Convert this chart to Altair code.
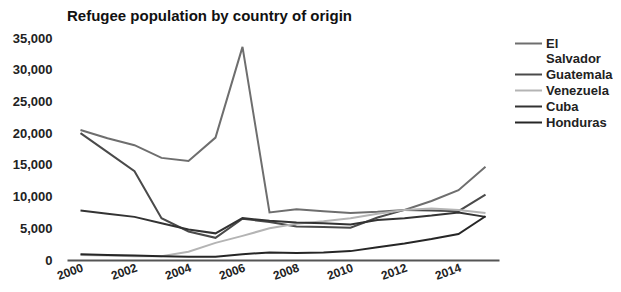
import altair as alt
import pandas as pd

years = [str(y) for y in range(2000, 2016)]
countries = ["El Salvador", "Guatemala", "Venezuela", "Cuba", "Honduras"]
el_salvador = [20500, 19200, 18100, 16100, 15600, 19300, 33600, 7500, 8000, 7700, 7400, 7600, 7900, 9300, 11000, 14700]
guatemala = [20000, 17000, 14000, 6600, 4500, 3500, 6500, 6000, 5300, 5200, 5100, 6700, 7900, 7800, 7700, 10300]
venezuela = [800, 700, 600, 600, 1300, 2700, 3800, 5000, 5700, 6100, 6600, 7300, 7900, 8100, 7900, 7400]
cuba = [7800, 7300, 6800, 5800, 4800, 4200, 6600, 6200, 5900, 5800, 5600, 6300, 6600, 7000, 7500, 6800]
honduras = [900, 800, 700, 600, 500, 500, 900, 1200, 1100, 1200, 1400, 2000, 2600, 3300, 4100, 6900]
tick_years = [str(y) for y in range(2000, 2016, 2)]
y_ticks = [0, 5000, 10000, 15000, 20000, 25000, 30000, 35000]
colors = ["#6e6e6e", "#4a4a4a", "#b4b4b4", "#333333", "#262626"]

series = [el_salvador, guatemala, venezuela, cuba, honduras]
rows = []
for c, vals in zip(countries, series):
    for y, v in zip(years, vals):
        rows.append({"year": y, "country": c, "value": v})
df = pd.DataFrame(rows)

FONT = "Liberation Sans"

chart = (
    alt.Chart(df)
    .mark_line(strokeWidth=2)
    .encode(
        x=alt.X(
            "year:O",
            scale=alt.Scale(type="point", padding=0.5),
            axis=alt.Axis(
                title=None,
                values=tick_years,
                labelAngle=-20,
                labelAlign="right",
                labelBaseline="top",
                labelPadding=2,
                labelFontSize=12,
                ticks=False,
                tickSize=0,
                grid=False,
                domainColor="#555555",
                domainWidth=2,
            ),
        ),
        y=alt.Y(
            "value:Q",
            scale=alt.Scale(domain=[0, 35000]),
            axis=alt.Axis(
                title=None,
                values=y_ticks,
                format=",d",
                domain=False,
                ticks=False,
                tickSize=0,
                grid=False,
                labelPadding=15,
            ),
        ),
        color=alt.Color(
            "country:N",
            sort=countries,
            scale=alt.Scale(domain=countries, range=colors),
            legend=alt.Legend(
                title=None,
                orient="none",
                legendX=455,
                legendY=-1,
                symbolType="M-3,0H3",
                symbolSize=81,
                symbolStrokeWidth=2,
                labelOffset=11,
                rowPadding=2,
                labelExpr="datum.label == 'El Salvador' ? ['El', 'Salvador'] : datum.label",
            ),
        ),
    )
    .properties(
        width=432,
        height=222,
        autosize=alt.AutoSizeParams(type="none"),
        padding={"left": 59, "top": 30, "right": 114, "bottom": 24},
        title=alt.TitleParams(
            "Refugee population by country of origin",
            anchor="start",
            frame="group",
            fontSize=15,
            fontWeight="bold",
            font=FONT,
            color="#111111",
            offset=8,
        ),
    )
    .configure_axis(
        labelFont=FONT,
        labelFontSize=13,
        labelFontWeight="bold",
        labelColor="#222222",
    )
    .configure_legend(
        labelFont=FONT,
        labelFontSize=13,
        labelFontWeight="bold",
        labelColor="#222222",
    )
    .configure_view(stroke=None)
)

chart.save("out.html", embed_options={"renderer": "svg", "actions": False})
